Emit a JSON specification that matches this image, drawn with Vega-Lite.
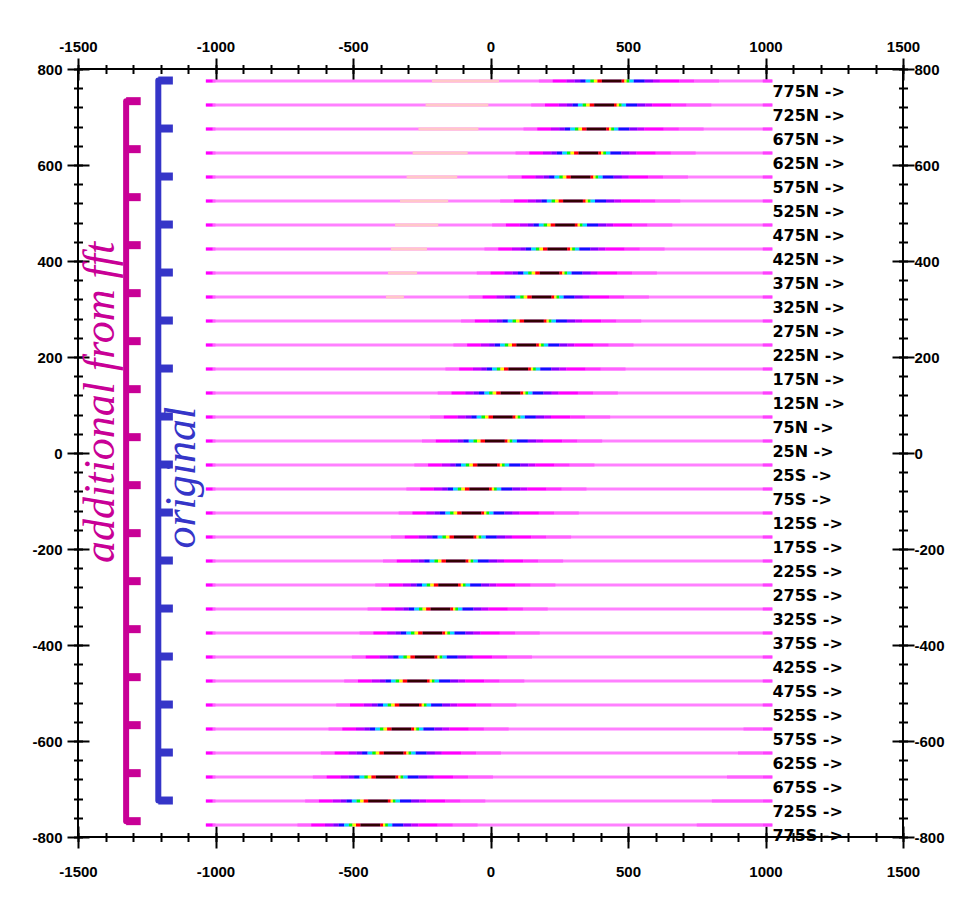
{
"$schema":"https://vega.github.io/schema/vega-lite/v6.json",
"width":825,"height":768,
"autosize":{"type":"none"},
"padding":{"left":78,"top":69,"right":50,"bottom":80},
"background":"white",
"config":{
 "view":{"stroke":"#000","strokeWidth":2},
 "rule":{"strokeWidth":3},
 "axis":{"domain":false,"grid":false,"tickColor":"#000","tickWidth":2,"labelFont":"Liberation Sans","labelFontSize":15,"labelFontWeight":"bold","labelColor":"#000","labelExpr":"datum.value + ''","labelOverlap":false,"labelFlush":false}
},
"datasets":{
 "lines":[
{"y":775,"t":"775N ->","p0":176,"p1":226,"p2":276,"p3":306,"p4":326,"p5":346,"p6":363,"p7":376,"p8":389,"p9":405,"p10":477,"p11":487,"p12":495,"p13":505,"p14":521,"p15":561,"p16":591,"p17":616,"p18":686,"p19":741,"p20":831},
{"y":725,"t":"725N ->","p0":148,"p1":198,"p2":248,"p3":278,"p4":298,"p5":318,"p6":335,"p7":348,"p8":361,"p9":377,"p10":449,"p11":459,"p12":467,"p13":477,"p14":493,"p15":533,"p16":563,"p17":588,"p18":658,"p19":713,"p20":803},
{"y":675,"t":"675N ->","p0":120,"p1":170,"p2":220,"p3":250,"p4":270,"p5":290,"p6":307,"p7":320,"p8":333,"p9":349,"p10":421,"p11":431,"p12":439,"p13":449,"p14":465,"p15":505,"p16":535,"p17":560,"p18":630,"p19":685,"p20":775},
{"y":625,"t":"625N ->","p0":91,"p1":141,"p2":191,"p3":221,"p4":241,"p5":261,"p6":278,"p7":291,"p8":304,"p9":320,"p10":392,"p11":402,"p12":410,"p13":420,"p14":436,"p15":476,"p16":506,"p17":531,"p18":601,"p19":656,"p20":746},
{"y":575,"t":"575N ->","p0":63,"p1":113,"p2":163,"p3":193,"p4":213,"p5":233,"p6":250,"p7":263,"p8":276,"p9":292,"p10":364,"p11":374,"p12":382,"p13":392,"p14":408,"p15":448,"p16":478,"p17":503,"p18":573,"p19":628,"p20":718},
{"y":525,"t":"525N ->","p0":35,"p1":85,"p2":135,"p3":165,"p4":185,"p5":205,"p6":222,"p7":235,"p8":248,"p9":264,"p10":336,"p11":346,"p12":354,"p13":364,"p14":380,"p15":420,"p16":450,"p17":475,"p18":545,"p19":600,"p20":690},
{"y":475,"t":"475N ->","p0":6,"p1":56,"p2":106,"p3":136,"p4":156,"p5":176,"p6":193,"p7":206,"p8":219,"p9":235,"p10":307,"p11":317,"p12":325,"p13":335,"p14":351,"p15":391,"p16":421,"p17":446,"p18":516,"p19":571,"p20":661},
{"y":425,"t":"425N ->","p0":-22,"p1":28,"p2":78,"p3":108,"p4":128,"p5":148,"p6":165,"p7":178,"p8":191,"p9":207,"p10":279,"p11":289,"p12":297,"p13":307,"p14":323,"p15":363,"p16":393,"p17":418,"p18":488,"p19":543,"p20":633},
{"y":375,"t":"375N ->","p0":-50,"p1":0,"p2":50,"p3":80,"p4":100,"p5":120,"p6":137,"p7":150,"p8":163,"p9":179,"p10":251,"p11":261,"p12":269,"p13":279,"p14":295,"p15":335,"p16":365,"p17":390,"p18":460,"p19":515,"p20":605},
{"y":325,"t":"325N ->","p0":-79,"p1":-29,"p2":21,"p3":51,"p4":71,"p5":91,"p6":108,"p7":121,"p8":134,"p9":150,"p10":222,"p11":232,"p12":240,"p13":250,"p14":266,"p15":306,"p16":336,"p17":361,"p18":431,"p19":486,"p20":576},
{"y":275,"t":"275N ->","p0":-107,"p1":-57,"p2":-7,"p3":23,"p4":43,"p5":63,"p6":80,"p7":93,"p8":106,"p9":122,"p10":194,"p11":204,"p12":212,"p13":222,"p14":238,"p15":278,"p16":308,"p17":333,"p18":403,"p19":458,"p20":548},
{"y":225,"t":"225N ->","p0":-135,"p1":-85,"p2":-35,"p3":-5,"p4":15,"p5":35,"p6":52,"p7":65,"p8":78,"p9":94,"p10":166,"p11":176,"p12":184,"p13":194,"p14":210,"p15":250,"p16":280,"p17":305,"p18":375,"p19":430,"p20":520},
{"y":175,"t":"175N ->","p0":-164,"p1":-114,"p2":-64,"p3":-34,"p4":-14,"p5":6,"p6":23,"p7":36,"p8":49,"p9":65,"p10":137,"p11":147,"p12":155,"p13":165,"p14":181,"p15":221,"p16":251,"p17":276,"p18":346,"p19":401,"p20":491},
{"y":125,"t":"125N ->","p0":-192,"p1":-142,"p2":-92,"p3":-62,"p4":-42,"p5":-22,"p6":-5,"p7":8,"p8":21,"p9":37,"p10":109,"p11":119,"p12":127,"p13":137,"p14":153,"p15":193,"p16":223,"p17":248,"p18":318,"p19":373,"p20":463},
{"y":75,"t":"75N ->","p0":-220,"p1":-170,"p2":-120,"p3":-90,"p4":-70,"p5":-50,"p6":-33,"p7":-20,"p8":-7,"p9":9,"p10":81,"p11":91,"p12":99,"p13":109,"p14":125,"p15":165,"p16":195,"p17":220,"p18":290,"p19":345,"p20":435},
{"y":25,"t":"25N ->","p0":-249,"p1":-199,"p2":-149,"p3":-119,"p4":-99,"p5":-79,"p6":-62,"p7":-49,"p8":-36,"p9":-20,"p10":52,"p11":62,"p12":70,"p13":80,"p14":96,"p15":136,"p16":166,"p17":191,"p18":261,"p19":316,"p20":406},
{"y":-25,"t":"25S ->","p0":-277,"p1":-227,"p2":-177,"p3":-147,"p4":-127,"p5":-107,"p6":-90,"p7":-77,"p8":-64,"p9":-48,"p10":24,"p11":34,"p12":42,"p13":52,"p14":68,"p15":108,"p16":138,"p17":163,"p18":233,"p19":288,"p20":378},
{"y":-75,"t":"75S ->","p0":-306,"p1":-256,"p2":-206,"p3":-176,"p4":-156,"p5":-136,"p6":-119,"p7":-106,"p8":-93,"p9":-77,"p10":-5,"p11":5,"p12":13,"p13":23,"p14":39,"p15":79,"p16":109,"p17":134,"p18":204,"p19":259,"p20":349},
{"y":-125,"t":"125S ->","p0":-334,"p1":-284,"p2":-234,"p3":-204,"p4":-184,"p5":-164,"p6":-147,"p7":-134,"p8":-121,"p9":-105,"p10":-33,"p11":-23,"p12":-15,"p13":-5,"p14":11,"p15":51,"p16":81,"p17":106,"p18":176,"p19":231,"p20":321},
{"y":-175,"t":"175S ->","p0":-362,"p1":-312,"p2":-262,"p3":-232,"p4":-212,"p5":-192,"p6":-175,"p7":-162,"p8":-149,"p9":-133,"p10":-61,"p11":-51,"p12":-43,"p13":-33,"p14":-17,"p15":23,"p16":53,"p17":78,"p18":148,"p19":203,"p20":293},
{"y":-225,"t":"225S ->","p0":-391,"p1":-341,"p2":-291,"p3":-261,"p4":-241,"p5":-221,"p6":-204,"p7":-191,"p8":-178,"p9":-162,"p10":-90,"p11":-80,"p12":-72,"p13":-62,"p14":-46,"p15":-6,"p16":24,"p17":49,"p18":119,"p19":174,"p20":264},
{"y":-275,"t":"275S ->","p0":-419,"p1":-369,"p2":-319,"p3":-289,"p4":-269,"p5":-249,"p6":-232,"p7":-219,"p8":-206,"p9":-190,"p10":-118,"p11":-108,"p12":-100,"p13":-90,"p14":-74,"p15":-34,"p16":-4,"p17":21,"p18":91,"p19":146,"p20":236},
{"y":-325,"t":"325S ->","p0":-447,"p1":-397,"p2":-347,"p3":-317,"p4":-297,"p5":-277,"p6":-260,"p7":-247,"p8":-234,"p9":-218,"p10":-146,"p11":-136,"p12":-128,"p13":-118,"p14":-102,"p15":-62,"p16":-32,"p17":-7,"p18":63,"p19":118,"p20":208},
{"y":-375,"t":"375S ->","p0":-476,"p1":-426,"p2":-376,"p3":-346,"p4":-326,"p5":-306,"p6":-289,"p7":-276,"p8":-263,"p9":-247,"p10":-175,"p11":-165,"p12":-157,"p13":-147,"p14":-131,"p15":-91,"p16":-61,"p17":-36,"p18":34,"p19":89,"p20":179},
{"y":-425,"t":"425S ->","p0":-504,"p1":-454,"p2":-404,"p3":-374,"p4":-354,"p5":-334,"p6":-317,"p7":-304,"p8":-291,"p9":-275,"p10":-203,"p11":-193,"p12":-185,"p13":-175,"p14":-159,"p15":-119,"p16":-89,"p17":-64,"p18":6,"p19":61,"p20":151},
{"y":-475,"t":"475S ->","p0":-532,"p1":-482,"p2":-432,"p3":-402,"p4":-382,"p5":-362,"p6":-345,"p7":-332,"p8":-319,"p9":-303,"p10":-231,"p11":-221,"p12":-213,"p13":-203,"p14":-187,"p15":-147,"p16":-117,"p17":-92,"p18":-22,"p19":33,"p20":123},
{"y":-525,"t":"525S ->","p0":-561,"p1":-511,"p2":-461,"p3":-431,"p4":-411,"p5":-391,"p6":-374,"p7":-361,"p8":-348,"p9":-332,"p10":-260,"p11":-250,"p12":-242,"p13":-232,"p14":-216,"p15":-176,"p16":-146,"p17":-121,"p18":-51,"p19":4,"p20":94},
{"y":-575,"t":"575S ->","p0":-589,"p1":-539,"p2":-489,"p3":-459,"p4":-439,"p5":-419,"p6":-402,"p7":-389,"p8":-376,"p9":-360,"p10":-288,"p11":-278,"p12":-270,"p13":-260,"p14":-244,"p15":-204,"p16":-174,"p17":-149,"p18":-79,"p19":-24,"p20":66},
{"y":-625,"t":"625S ->","p0":-617,"p1":-567,"p2":-517,"p3":-487,"p4":-467,"p5":-447,"p6":-430,"p7":-417,"p8":-404,"p9":-388,"p10":-316,"p11":-306,"p12":-298,"p13":-288,"p14":-272,"p15":-232,"p16":-202,"p17":-177,"p18":-107,"p19":-52,"p20":38},
{"y":-675,"t":"675S ->","p0":-646,"p1":-596,"p2":-546,"p3":-516,"p4":-496,"p5":-476,"p6":-459,"p7":-446,"p8":-433,"p9":-417,"p10":-345,"p11":-335,"p12":-327,"p13":-317,"p14":-301,"p15":-261,"p16":-231,"p17":-206,"p18":-136,"p19":-81,"p20":9},
{"y":-725,"t":"725S ->","p0":-674,"p1":-624,"p2":-574,"p3":-544,"p4":-524,"p5":-504,"p6":-487,"p7":-474,"p8":-461,"p9":-445,"p10":-373,"p11":-363,"p12":-355,"p13":-345,"p14":-329,"p15":-289,"p16":-259,"p17":-234,"p18":-164,"p19":-109,"p20":-19},
{"y":-775,"t":"775S ->","p0":-702,"p1":-652,"p2":-602,"p3":-572,"p4":-552,"p5":-532,"p6":-515,"p7":-502,"p8":-489,"p9":-473,"p10":-401,"p11":-391,"p12":-383,"p13":-373,"p14":-357,"p15":-317,"p16":-287,"p17":-262,"p18":-192,"p19":-137,"p20":-47}
 ],
 "peach":[
{"y":775,"a":-213,"b":31},{"y":725,"a":-236,"b":-8},{"y":675,"a":-262,"b":-44},{"y":625,"a":-283,"b":-83},{"y":575,"a":-305,"b":-121},
{"y":525,"a":-329,"b":-154},{"y":475,"a":-347,"b":-190},{"y":425,"a":-362,"b":-231},{"y":375,"a":-373,"b":-267},{"y":325,"a":-380,"b":-315}
 ],
 "tail":[
{"y":-575,"a":920,"b":990},{"y":-625,"a":900,"b":990},{"y":-675,"a":860,"b":990},{"y":-725,"a":805,"b":990},{"y":-775,"a":750,"b":990}
 ],
 "stems":[
{"k":"a","x":-1325,"y":733,"y2":-767},{"k":"o","x":-1208,"y":776,"y2":-724}
 ],
 "spurs":[
{"k":"a","x":-1325,"x2":-1272,"y":733},{"k":"a","x":-1325,"x2":-1272,"y":633},{"k":"a","x":-1325,"x2":-1272,"y":533},{"k":"a","x":-1325,"x2":-1272,"y":433},
{"k":"a","x":-1325,"x2":-1272,"y":333},{"k":"a","x":-1325,"x2":-1272,"y":233},{"k":"a","x":-1325,"x2":-1272,"y":133},{"k":"a","x":-1325,"x2":-1272,"y":33},
{"k":"a","x":-1325,"x2":-1272,"y":-67},{"k":"a","x":-1325,"x2":-1272,"y":-167},{"k":"a","x":-1325,"x2":-1272,"y":-267},{"k":"a","x":-1325,"x2":-1272,"y":-367},
{"k":"a","x":-1325,"x2":-1272,"y":-467},{"k":"a","x":-1325,"x2":-1272,"y":-567},{"k":"a","x":-1325,"x2":-1272,"y":-667},{"k":"a","x":-1325,"x2":-1272,"y":-767},
{"k":"o","x":-1208,"x2":-1155,"y":776},{"k":"o","x":-1208,"x2":-1155,"y":676},{"k":"o","x":-1208,"x2":-1155,"y":576},{"k":"o","x":-1208,"x2":-1155,"y":476},
{"k":"o","x":-1208,"x2":-1155,"y":376},{"k":"o","x":-1208,"x2":-1155,"y":276},{"k":"o","x":-1208,"x2":-1155,"y":176},{"k":"o","x":-1208,"x2":-1155,"y":76},
{"k":"o","x":-1208,"x2":-1155,"y":-24},{"k":"o","x":-1208,"x2":-1155,"y":-124},{"k":"o","x":-1208,"x2":-1155,"y":-224},{"k":"o","x":-1208,"x2":-1155,"y":-324},
{"k":"o","x":-1208,"x2":-1155,"y":-424},{"k":"o","x":-1208,"x2":-1155,"y":-524},{"k":"o","x":-1208,"x2":-1155,"y":-624},{"k":"o","x":-1208,"x2":-1155,"y":-724}
 ]
},
"resolve":{"scale":{"x":"shared","y":"shared"},"axis":{"x":"independent","y":"independent"}},
"layer":[
 {"data":{"name":"lines"},"mark":{"type":"rule","color":"#ff80ff"},
  "encoding":{
   "x":{"datum":-1035,"type":"quantitative","scale":{"domain":[-1500,1500],"nice":false,"zero":false},
        "axis":{"orient":"top","title":null,"values":[-1500,-1400,-1300,-1200,-1100,-1000,-900,-800,-700,-600,-500,-400,-300,-200,-100,0,100,200,300,400,500,600,700,800,900,1000,1100,1200,1300,1400,1500],"offset":-4.5,"tickSize":9,"labels":false}},
   "x2":{"datum":1025},
   "y":{"field":"y","type":"quantitative","scale":{"domain":[-800,800],"nice":false,"zero":false},
        "axis":{"orient":"left","title":null,"values":[-800,-760,-720,-680,-640,-600,-560,-520,-480,-440,-400,-360,-320,-280,-240,-200,-160,-120,-80,-40,0,40,80,120,160,200,240,280,320,360,400,440,480,520,560,600,640,680,720,760,800],"offset":-4.5,"tickSize":9,"labels":false}}
  }},
 {"data":{"name":"peach"},"mark":{"type":"rule","color":"#ffc8c8"},
  "encoding":{
   "x":{"field":"a","type":"quantitative","axis":{"orient":"top","title":null,"values":[-1500,-1000,-500,0,500,1000,1500],"offset":-11,"tickSize":22,"labelPadding":4}},
   "x2":{"field":"b"},
   "y":{"field":"y","type":"quantitative","axis":{"orient":"left","title":null,"values":[-800,-600,-400,-200,0,200,400,600,800],"offset":-11,"tickSize":22,"labelPadding":5}}
  }},
 {"data":{"name":"lines"},"mark":{"type":"rule","color":"#ff00ff"},
  "encoding":{
   "x":{"datum":-1035,"type":"quantitative","axis":{"orient":"bottom","title":null,"values":[-1500,-1400,-1300,-1200,-1100,-1000,-900,-800,-700,-600,-500,-400,-300,-200,-100,0,100,200,300,400,500,600,700,800,900,1000,1100,1200,1300,1400,1500],"offset":-4.5,"tickSize":9,"labels":false}},
   "x2":{"datum":-1010},
   "y":{"field":"y","type":"quantitative","axis":{"orient":"right","title":null,"values":[-800,-760,-720,-680,-640,-600,-560,-520,-480,-440,-400,-360,-320,-280,-240,-200,-160,-120,-80,-40,0,40,80,120,160,200,240,280,320,360,400,440,480,520,560,600,640,680,720,760,800],"offset":-4.5,"tickSize":9,"labels":false}}
  }},
 {"data":{"name":"lines"},"mark":{"type":"rule","color":"#ff40ff"},
  "encoding":{
   "x":{"datum":990,"type":"quantitative","axis":{"orient":"bottom","title":null,"values":[-1500,-1000,-500,0,500,1000,1500],"offset":-11,"tickSize":22,"labelPadding":16}},
   "x2":{"datum":1025},
   "y":{"field":"y","type":"quantitative","axis":{"orient":"right","title":null,"values":[-800,-600,-400,-200,0,200,400,600,800],"offset":-11,"tickSize":22,"labelPadding":0}}
  }},
 {"data":{"name":"lines"},"mark":{"type":"rule","color":"#ff60ff"},
  "encoding":{"x":{"datum":-1010,"type":"quantitative","axis":null},"x2":{"datum":-1000},"y":{"field":"y","type":"quantitative","axis":null}}},
 {"data":{"name":"tail"},"mark":{"type":"rule","color":"#ff60ff"},
  "encoding":{"x":{"field":"a","type":"quantitative","axis":null},"x2":{"field":"b"},"y":{"field":"y","type":"quantitative","axis":null}}},
 {"data":{"name":"lines"},
  "encoding":{"y":{"field":"y","type":"quantitative","axis":null}},
  "layer":[
   {"mark":{"type":"rule","color":"#ff60ff"},"encoding":{"x":{"field":"p0","type":"quantitative","axis":null},"x2":{"field":"p1"}}},
   {"mark":{"type":"rule","color":"#ff00ff"},"encoding":{"x":{"field":"p1","type":"quantitative","axis":null},"x2":{"field":"p2"}}},
   {"mark":{"type":"rule","color":"#c000ff"},"encoding":{"x":{"field":"p2","type":"quantitative","axis":null},"x2":{"field":"p3"}}},
   {"mark":{"type":"rule","color":"#8000ff"},"encoding":{"x":{"field":"p3","type":"quantitative","axis":null},"x2":{"field":"p4"}}},
   {"mark":{"type":"rule","color":"#1010ff"},"encoding":{"x":{"field":"p4","type":"quantitative","axis":null},"x2":{"field":"p5"}}},
   {"mark":{"type":"rule","color":"#00e0ff"},"encoding":{"x":{"field":"p5","type":"quantitative","axis":null},"x2":{"field":"p6"}}},
   {"mark":{"type":"rule","color":"#00ff00"},"encoding":{"x":{"field":"p6","type":"quantitative","axis":null},"x2":{"field":"p7"}}},
   {"mark":{"type":"rule","color":"#ffff00"},"encoding":{"x":{"field":"p7","type":"quantitative","axis":null},"x2":{"field":"p8"}}},
   {"mark":{"type":"rule","color":"#ff0000"},"encoding":{"x":{"field":"p8","type":"quantitative","axis":null},"x2":{"field":"p9"}}},
   {"mark":{"type":"rule","color":"#300000"},"encoding":{"x":{"field":"p9","type":"quantitative","axis":null},"x2":{"field":"p10"}}},
   {"mark":{"type":"rule","color":"#ff0000"},"encoding":{"x":{"field":"p10","type":"quantitative","axis":null},"x2":{"field":"p11"}}},
   {"mark":{"type":"rule","color":"#ffff00"},"encoding":{"x":{"field":"p11","type":"quantitative","axis":null},"x2":{"field":"p12"}}},
   {"mark":{"type":"rule","color":"#00ff00"},"encoding":{"x":{"field":"p12","type":"quantitative","axis":null},"x2":{"field":"p13"}}},
   {"mark":{"type":"rule","color":"#00e0ff"},"encoding":{"x":{"field":"p13","type":"quantitative","axis":null},"x2":{"field":"p14"}}},
   {"mark":{"type":"rule","color":"#1010ff"},"encoding":{"x":{"field":"p14","type":"quantitative","axis":null},"x2":{"field":"p15"}}},
   {"mark":{"type":"rule","color":"#8000ff"},"encoding":{"x":{"field":"p15","type":"quantitative","axis":null},"x2":{"field":"p16"}}},
   {"mark":{"type":"rule","color":"#c000ff"},"encoding":{"x":{"field":"p16","type":"quantitative","axis":null},"x2":{"field":"p17"}}},
   {"mark":{"type":"rule","color":"#ff00ff"},"encoding":{"x":{"field":"p17","type":"quantitative","axis":null},"x2":{"field":"p18"}}},
   {"mark":{"type":"rule","color":"#ff33ff"},"encoding":{"x":{"field":"p18","type":"quantitative","axis":null},"x2":{"field":"p19"}}},
   {"mark":{"type":"rule","color":"#ff60ff"},"encoding":{"x":{"field":"p19","type":"quantitative","axis":null},"x2":{"field":"p20"}}}
  ]},
 {"data":{"name":"stems"},"mark":{"type":"rule","strokeWidth":6,"strokeCap":"round"},
  "encoding":{"x":{"field":"x","type":"quantitative","axis":null},"y":{"field":"y","type":"quantitative","axis":null},"y2":{"field":"y2"},
   "color":{"field":"k","type":"nominal","scale":{"domain":["a","o"],"range":["#c80096","#3535c8"]},"legend":null}}},
 {"data":{"name":"spurs"},"mark":{"type":"rule","strokeWidth":8,"strokeCap":"butt"},
  "encoding":{"x":{"field":"x","type":"quantitative","axis":null},"x2":{"field":"x2"},"y":{"field":"y","type":"quantitative","axis":null},
   "color":{"field":"k","type":"nominal","legend":null}}},
 {"data":{"name":"lines"},"mark":{"type":"text","align":"left","baseline":"middle","dy":11,"font":"DejaVu Sans","fontSize":16,"fontWeight":"bold","color":"#000"},
  "encoding":{"x":{"datum":1025,"type":"quantitative","axis":null},"y":{"field":"y","type":"quantitative","axis":null},"text":{"field":"t"}}},
 {"data":{"values":[{}]},"mark":{"type":"text","angle":270,"align":"left","baseline":"alphabetic","font":"Liberation Serif","fontStyle":"italic","fontSize":44,"color":"#c80096","text":"additional from fft"},
  "encoding":{"x":{"datum":-1369,"type":"quantitative","axis":null},"y":{"datum":-229,"type":"quantitative","axis":null}}},
 {"data":{"values":[{}]},"mark":{"type":"text","angle":270,"align":"left","baseline":"alphabetic","font":"Liberation Serif","fontStyle":"italic","fontSize":44,"color":"#3535c8","text":"original"},
  "encoding":{"x":{"datum":-1076,"type":"quantitative","axis":null},"y":{"datum":-199,"type":"quantitative","axis":null}}}
]
}
